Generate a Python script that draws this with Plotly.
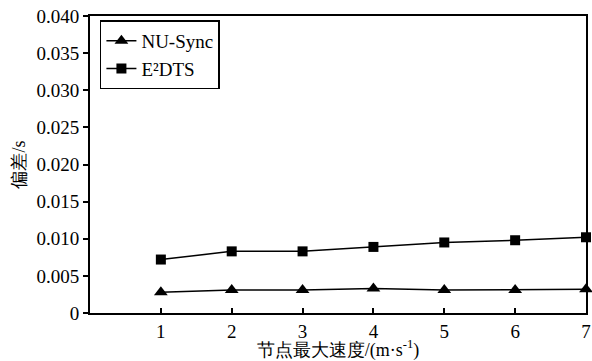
import plotly.graph_objects as go

speeds = [1, 2, 3, 4, 5, 6, 7]
nu_sync = [0.0028, 0.0031, 0.0031, 0.0033, 0.0031, 0.0031, 0.0032]
e2dts = [0.0072, 0.0083, 0.0083, 0.0089, 0.0095, 0.0098, 0.0102]
y_tickvals = [0, 0.005, 0.010, 0.015, 0.020, 0.025, 0.030, 0.035, 0.040]
y_ticktext = ["0", "0.005", "0.010", "0.015", "0.020", "0.025", "0.030", "0.035", "0.040"]
x_tickvals = [1, 2, 3, 4, 5, 6, 7]

FONT = "Liberation Serif"
FS = 19

fig = go.Figure()
fig.add_trace(go.Scatter(
    x=speeds, y=nu_sync, mode="lines+markers", name="NU-Sync",
    line=dict(color="black", width=1.5),
    marker=dict(symbol="triangle-up", size=12, color="black"),
    cliponaxis=False,
))
fig.add_trace(go.Scatter(
    x=speeds, y=e2dts, mode="lines+markers", name="E²DTS",
    line=dict(color="black", width=1.5),
    marker=dict(symbol="square", size=10, color="black"),
    cliponaxis=False,
))

fig.update_layout(
    width=592, height=361,
    margin=dict(l=90, r=6, t=16, b=48),
    paper_bgcolor="white", plot_bgcolor="white",
    font=dict(family=FONT, size=FS, color="black"),
    showlegend=True,
    legend=dict(
        x=0.02, y=0.985, xanchor="left", yanchor="top",
        bordercolor="black", borderwidth=1.5, bgcolor="white",
        font=dict(family=FONT, size=FS, color="black"),
        tracegroupgap=0, itemwidth=30,
    ),
    xaxis=dict(
        range=[0, 7], tickvals=x_tickvals, ticks="inside", ticklen=5, tickwidth=1.5,
        tickcolor="black", showline=True, linecolor="black", linewidth=1.8, mirror=True,
        showgrid=False, zeroline=False,
        tickfont=dict(family=FONT, size=FS),
        title=dict(text="节点最大速度/(m·s<sup>-1</sup>)", standoff=7,
                   font=dict(family=FONT, size=18)),
        automargin=False,
    ),
    yaxis=dict(
        range=[0, 0.040], tickvals=y_tickvals, ticktext=y_ticktext,
        ticks="outside", ticklen=5, tickwidth=1.5, tickcolor="black",
        showline=True, linecolor="black", linewidth=1.8, mirror=True,
        showgrid=False, zeroline=False,
        tickfont=dict(family=FONT, size=FS),
        title=dict(text="偏差/s", standoff=6, font=dict(family=FONT, size=18)),
        automargin=False,
    ),
)

fig.write_html("out.html")
